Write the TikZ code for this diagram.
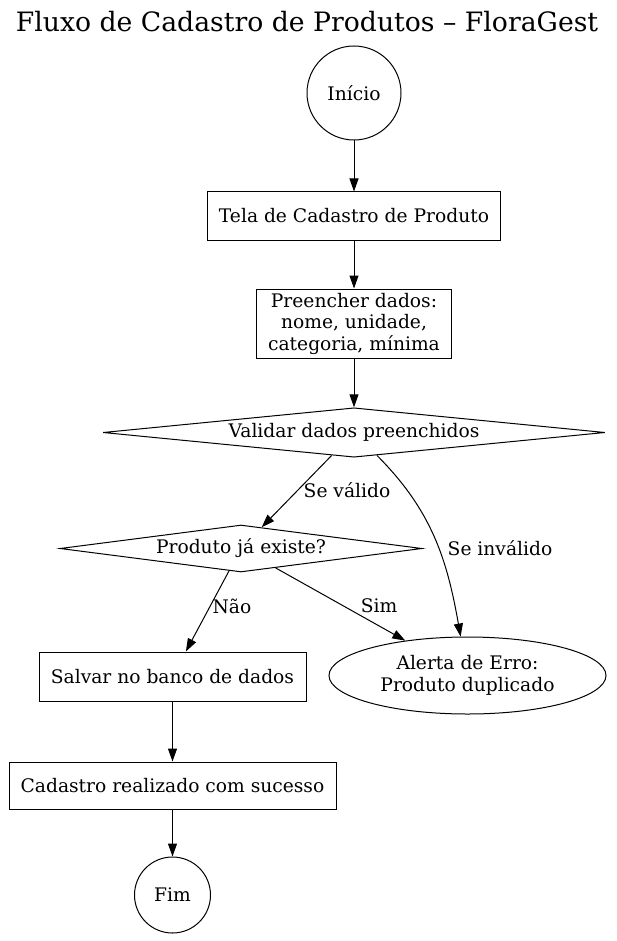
\documentclass[tikz,border=0pt]{standalone}
\usepackage{fontspec}
\setmainfont{DejaVu Serif}
\usetikzlibrary{shapes.geometric,arrows.meta}

\tikzset{
  texto/.style={font=\fontsize{18.67}{21.5}\selectfont, align=center},
  caixa/.style={texto, draw, line width=1pt, rectangle, inner sep=0pt},
  terminal/.style={texto, draw, line width=1pt, circle, inner sep=0pt},
  decisao/.style={texto, draw, line width=1pt, diamond, aspect=8, inner sep=0pt},
  alerta/.style={texto, draw, line width=1pt, ellipse, inner sep=0pt},
  rotulo/.style={texto, inner sep=1pt},
  fluxo/.style={line width=1pt, -{Triangle[length=13pt,width=9pt]}},
}

\begin{document}
\begin{tikzpicture}[x=1pt,y=1pt]
        \useasboundingbox (0,0) rectangle (616,-941);
        %% Titulo
        \node[texto, font=\fontsize{26.67}{30}\selectfont] (titulo) at (307,-22)
            {Fluxo de Cadastro de Produtos – FloraGest};
        %% Etapas
        \node[terminal, minimum size=94pt] (inicio) at (354,-93) {Início};
        \node[caixa, minimum width=293pt, minimum height=48pt] (tela) at (354,-216)
            {Tela de Cadastro de Produto};
        \node[caixa, minimum width=195pt, minimum height=69pt] (preencher) at (354,-323.5)
            {Preencher dados:\\nome, unidade,\\categoria, mínima};
        \node[decisao, minimum width=502pt, minimum height=47pt] (validar) at (354,-432.5)
            {Validar dados preenchidos};
        \node[decisao, minimum width=362pt, minimum height=47pt] (existe) at (241,-548.5)
            {Produto já existe?};
        \node[caixa, minimum width=267pt, minimum height=49pt] (salvar) at (172.5,-676.5)
            {Salvar no banco de dados};
        \node[alerta, minimum width=277pt, minimum height=77pt] (alerta) at (467.5,-675.5)
            {Alerta de Erro:\\Produto duplicado};
        \node[caixa, minimum width=327pt, minimum height=47pt] (sucesso) at (172.5,-785.5)
            {Cadastro realizado com sucesso};
        \node[terminal, minimum size=76pt] (fim) at (172.5,-895) {Fim};
        %% Ligacoes
        \draw[fluxo] (inicio) -- (tela);
        \draw[fluxo] (tela) -- (preencher);
        \draw[fluxo] (preencher) -- (validar);
        \draw[fluxo] (validar) -- (existe);
        \draw[fluxo] (validar) to[out=-45,in=100] (alerta);
        \draw[fluxo] (existe) -- (salvar);
        \draw[fluxo] (existe) -- (alerta);
        \draw[fluxo] (salvar) -- (sucesso);
        \draw[fluxo] (sucesso) -- (fim);
        %% Rotulos
        \node[rotulo] (valido) at (347,-490) {Se válido};
        \node[rotulo] (invalido) at (500,-548) {Se inválido};
        \node[rotulo] (nao) at (232,-606) {Não};
        \node[rotulo] (sim) at (379,-606) {Sim};
\end{tikzpicture}
\end{document}
